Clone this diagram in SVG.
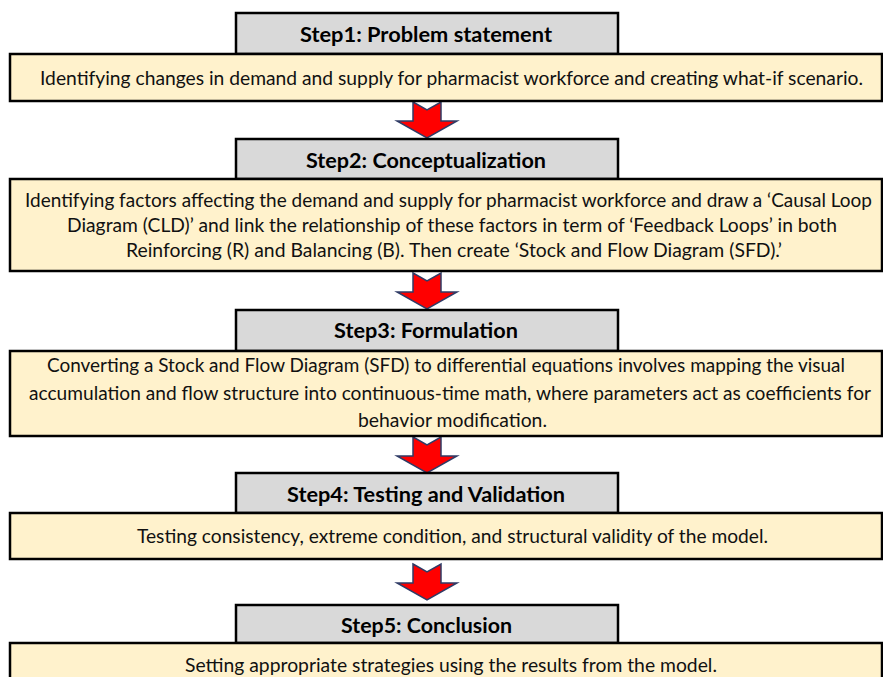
<svg xmlns="http://www.w3.org/2000/svg" width="883" height="677" viewBox="0 0 883 677">
<style>
.hdr{fill:#d9d9d9;stroke:#000;stroke-width:2.5}
.box{fill:#fff2cc;stroke:#000;stroke-width:2.5}
.ht{font-family:Lato,"Liberation Sans",sans-serif;font-weight:bold;font-size:20px;fill:#000}
.bt{font-family:Lato,"Liberation Sans",sans-serif;font-size:19.5px;fill:#111}
.bt.s{font-size:18.5px}
.arr{fill:#ff0000;stroke:#2f3b66;stroke-width:1.5;stroke-linejoin:miter}
</style>
<defs>
<path id="arrow" class="arr" d="M413,0 L427,8 L441,0 L441,19 L457,19 L427,36 L397,19 L413,19 Z"/>
</defs>
<rect width="883" height="677" fill="#fff"/>
<g id="connectors">
<use href="#arrow" transform="translate(0,102)"/>
<use href="#arrow" transform="translate(0,273)"/>
<use href="#arrow" transform="translate(0,437)"/>
<use href="#arrow" transform="translate(0,564)"/>
</g>
<g id="step1">
<rect class="hdr" x="236" y="13" width="382" height="41"/>
<rect class="box" x="10" y="54" width="872" height="47"/>
<text class="ht" x="300" y="42" textLength="252" lengthAdjust="spacingAndGlyphs">Step1: Problem statement</text>
<text class="bt" x="40" y="85" textLength="823" lengthAdjust="spacingAndGlyphs">Identifying changes in demand and supply for pharmacist workforce and creating what-if scenario.</text>
</g>
<g id="step2">
<rect class="hdr" x="236" y="139" width="382" height="40"/>
<rect class="box" x="10" y="179" width="872" height="92"/>
<text class="ht" x="306" y="168" textLength="240" lengthAdjust="spacingAndGlyphs">Step2: Conceptualization</text>
<text class="bt s" x="25" y="207" textLength="847" lengthAdjust="spacingAndGlyphs">Identifying factors affecting the demand and supply for pharmacist workforce and draw a ‘Causal Loop</text>
<text class="bt s" x="67" y="232" textLength="770" lengthAdjust="spacingAndGlyphs">Diagram (CLD)’ and link the relationship of these factors in term of ‘Feedback Loops’ in both</text>
<text class="bt s" x="126" y="257" textLength="656" lengthAdjust="spacingAndGlyphs">Reinforcing (R) and Balancing (B). Then create ‘Stock and Flow Diagram (SFD).’</text>
</g>
<g id="step3">
<rect class="hdr" x="236" y="310" width="382" height="41"/>
<rect class="box" x="10" y="351" width="872" height="85"/>
<text class="ht" x="334" y="338" textLength="184" lengthAdjust="spacingAndGlyphs">Step3: Formulation</text>
<text class="bt s" x="47" y="372" textLength="798" lengthAdjust="spacingAndGlyphs">Converting a Stock and Flow Diagram (SFD) to differential equations involves mapping the visual</text>
<text class="bt s" x="29" y="400" textLength="842" lengthAdjust="spacingAndGlyphs">accumulation and flow structure into continuous-time math, where parameters act as coefficients for</text>
<text class="bt s" x="358" y="427" textLength="189" lengthAdjust="spacingAndGlyphs">behavior modification.</text>
</g>
<g id="step4">
<rect class="hdr" x="236" y="473" width="382" height="40"/>
<rect class="box" x="10" y="513" width="872" height="46"/>
<text class="ht" x="287" y="502" textLength="278" lengthAdjust="spacingAndGlyphs">Step4: Testing and Validation</text>
<text class="bt" x="137" y="543" textLength="631" lengthAdjust="spacingAndGlyphs">Testing consistency, extreme condition, and structural validity of the model.</text>
</g>
<g id="step5">
<rect class="hdr" x="236" y="605" width="382" height="38"/>
<rect class="box" x="10" y="643" width="872" height="50"/>
<text class="ht" x="341" y="633" textLength="171" lengthAdjust="spacingAndGlyphs">Step5: Conclusion</text>
<text class="bt" x="185" y="672" textLength="532" lengthAdjust="spacingAndGlyphs">Setting appropriate strategies using the results from the model.</text>
</g>
</svg>
